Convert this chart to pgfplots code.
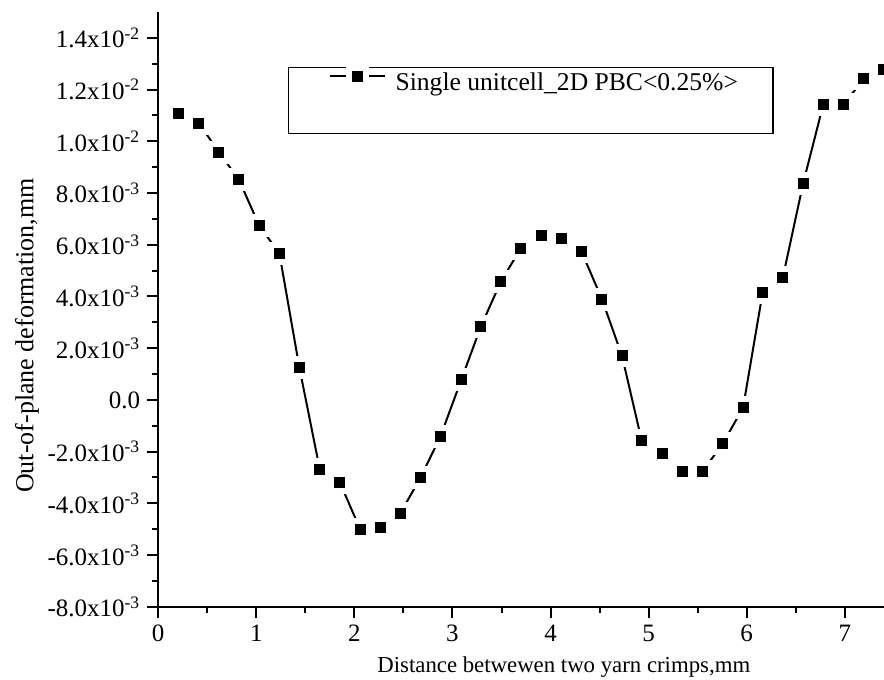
\documentclass[border=0pt]{standalone}
\usepackage{fontspec}
\setmainfont{Liberation Serif}
\usepackage{pgfplots}
\pgfplotsset{compat=1.18}
\begin{document}
\begin{tikzpicture}
\begin{axis}[
  name=ax,
  scale only axis,
  width=363pt, height=297.5pt,
  xmin=0, xmax=7.4, ymin=-0.008, ymax=0.015,
  axis lines=left,
  axis line style={-, line width=1pt, black},
  xtick={0,1,2,3,4,5,6,7},
  xticklabels={0,1,2,3,4,5,6,7},
  minor xtick={0.5,1.5,2.5,3.5,4.5,5.5,6.5},
  ytick={-0.008,-0.006,-0.004,-0.002,0,0.002,0.004,0.006,0.008,0.010,0.012,0.014},
  yticklabels={{-8.0x10\textsuperscript{-3}},{-6.0x10\textsuperscript{-3}},{-4.0x10\textsuperscript{-3}},{-2.0x10\textsuperscript{-3}},{0.0},{2.0x10\textsuperscript{-3}},{4.0x10\textsuperscript{-3}},{6.0x10\textsuperscript{-3}},{8.0x10\textsuperscript{-3}},{1.0x10\textsuperscript{-2}},{1.2x10\textsuperscript{-2}},{1.4x10\textsuperscript{-2}}},
  minor ytick={-0.007,-0.005,-0.003,-0.001,0.001,0.003,0.005,0.007,0.009,0.011,0.013},
  tick align=outside,
  major tick length=5.5pt, minor tick length=3pt,
  every tick/.style={black, line width=1pt},
  ticklabel style={font=\fontsize{12.5}{14}\selectfont},
  scaled y ticks=false,
  clip marker paths=true,
  xlabel={Distance betwewen two yarn crimps,mm},
  ylabel={Out-of-plane deformation,mm},
  xlabel style={at={(axis description cs:0.5588,-0.1109)}, anchor=base, font=\fontsize{11.4}{13}\selectfont},
  ylabel style={at={(axis description cs:-0.1722,0.456)}, anchor=base, font=\fontsize{13}{15}\selectfont},
  legend image code/.code={\path (-2.5pt,0pt); \draw[mark repeat=2,mark phase=2,#1] plot coordinates {(0pt,3.5pt) (13.75pt,3.5pt) (27.5pt,3.5pt)};},
  legend style={at={(axis description cs:0.1787,0.9076)}, anchor=north west, draw=black, line width=0.7pt,
    inner xsep=17.5pt, inner ysep=0pt, column sep=5pt, row sep=18.5pt, nodes={inner sep=0pt},
    font=\fontsize{12.8}{15}\selectfont},
  legend cell align=left,
]
\addplot[black, line width=1pt, mark=square*, mark size=4.25pt,
  mark options={draw=white, fill=black, line width=3pt, solid}] coordinates {
(0.211,0.01109) (0.415,0.01070) (0.619,0.00958) (0.823,0.00851)
(1.031,0.00673) (1.235,0.00567) (1.439,0.00125) (1.647,-0.00268)
(1.851,-0.00318) (2.058,-0.00500) (2.262,-0.00494) (2.469,-0.00438)
(2.673,-0.00301) (2.877,-0.00142) (3.089,0.00077) (3.290,0.00284)
(3.494,0.00458) (3.698,0.00587) (3.908,0.00636) (4.116,0.00623)
(4.316,0.00573) (4.524,0.00390) (4.729,0.00170) (4.929,-0.00157)
(5.137,-0.00206) (5.341,-0.00277) (5.548,-0.00277) (5.755,-0.00170)
(5.963,-0.00030) (6.163,0.00416) (6.369,0.00474) (6.576,0.00838)
(6.780,0.01141) (6.984,0.01141) (7.194,0.01241) (7.392,0.01279)
};
\addlegendentry{Single unitcell\_2D PBC<0.25\%>}
\addlegendimage{empty legend}
\addlegendentry{}
\end{axis}
\pgfresetboundingbox
\path[use as bounding box] ([xshift=-79.15pt,yshift=-36.5pt]ax.south west) rectangle ([yshift=6pt]ax.north east);
\end{tikzpicture}
\end{document}
